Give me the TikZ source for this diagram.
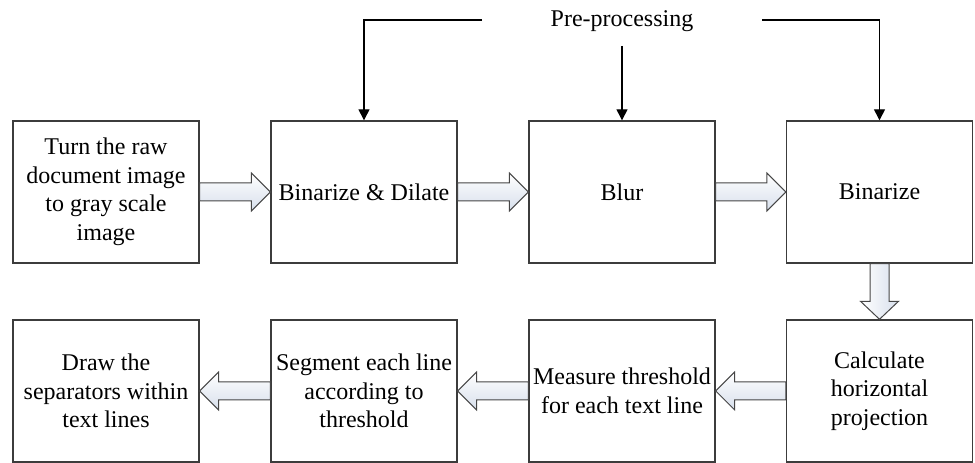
\documentclass[tikz,border=0pt]{standalone}
\usepackage{fontspec}
\setmainfont{Liberation Serif}
\usetikzlibrary{calc,arrows.meta}
\tikzset{
  x=1pt,y=1pt,
  box/.style={draw={rgb,255:red,60;green,60;blue,60},line width=1.4pt,minimum width=186pt,minimum height=142pt,
    align=center,inner sep=0pt,font=\fontsize{24}{28.5}\selectfont,text=black},
  blk/.style={draw={rgb,255:red,70;green,70;blue,70},line width=1pt,line join=miter,
    top color=white,bottom color={rgb,255:red,215;green,223;blue,236}},
  conn/.style={draw=black,line width=1.4pt,-{Triangle[length=11pt,width=11pt]}},
  plain/.style={draw=black,line width=1.4pt}
}
\newcommand\rarrowblk[2]{%
  \draw[blk] ($(#1)+(0,9)$) -- ($(#2)+(-19,9)$) -- ($(#2)+(-19,19)$) -- (#2) -- ($(#2)+(-19,-19)$) -- ($(#2)+(-19,-9)$) -- ($(#1)+(0,-9)$) -- cycle;}
\newcommand\larrowblk[2]{%
  \draw[blk] ($(#1)+(0,9)$) -- ($(#2)+(19,9)$) -- ($(#2)+(19,19)$) -- (#2) -- ($(#2)+(19,-19)$) -- ($(#2)+(19,-9)$) -- ($(#1)+(0,-9)$) -- cycle;}
\begin{document}
\begin{tikzpicture}
\useasboundingbox (0,0) rectangle (975,463);
% top row
\node[box] (b1) at (106,271) {Turn the raw\\document image\\to gray scale\\image};
\node[box] (b2) at (364,271) {Binarize \& Dilate};
\node[box] (b3) at (622,271) {Blur};
\node[box] (b4) at (879.5,271) {Binarize};
% bottom row
\node[box] (c1) at (106,72) {Draw the\\separators within\\text lines};
\node[box] (c2) at (364,72) {Segment each line\\according to\\threshold};
\node[box] (c3) at (622,72) {Measure threshold\\for each text line};
\node[box] (c4) at (879.5,72) {Calculate\\horizontal\\projection};
% pre-processing
\node[font=\fontsize{24}{28.5}\selectfont,text=black,inner sep=0pt] (pp) at (622,442) {Pre-processing};
\coordinate (pl) at (482,443);
\coordinate (pr) at (762,443);
\coordinate (pm) at (622,417);
\draw[conn] (pl) -| (b2.north);
\draw[conn] (pm) -- (b3.north);
\draw[conn] (pr) -| (b4.north);
% block arrows
\rarrowblk{b1.east}{b2.west}
\rarrowblk{b2.east}{b3.west}
\rarrowblk{b3.east}{b4.west}
\larrowblk{c4.west}{c3.east}
\larrowblk{c3.west}{c2.east}
\larrowblk{c2.west}{c1.east}
\draw[blk,left color=white,right color={rgb,255:red,215;green,223;blue,236}]
  ($(b4.south)+(-9.5,0)$) -- ($(c4.north)+(-9.5,18)$) -- ($(c4.north)+(-19,18)$) -- (c4.north)
  -- ($(c4.north)+(19,18)$) -- ($(c4.north)+(9.5,18)$) -- ($(b4.south)+(9.5,0)$) -- cycle;
\end{tikzpicture}
\end{document}
